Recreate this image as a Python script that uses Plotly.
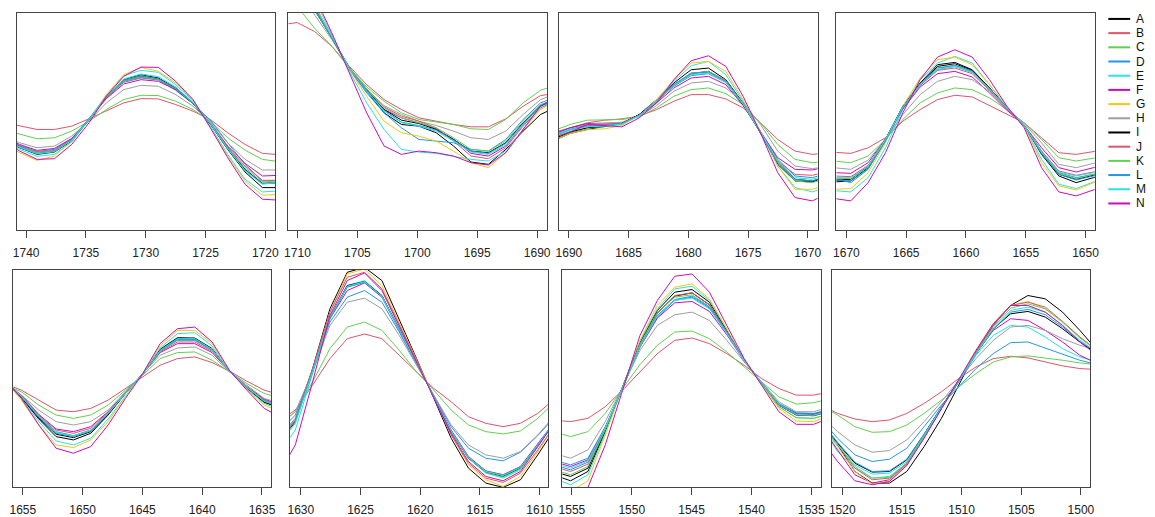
import plotly.graph_objects as go

names = list("ABCDEFGHIJKLMN")
palette = ["#000000", "#DF536B", "#61D04F", "#2297E6", "#28E2E5", "#CD0BBC", "#F5C710", "#9E9E9E"]
colors = (palette * 2)[:14]

# ---------- panel 1 ----------
x1 = [1741.99, 1740.54, 1739.09, 1737.64, 1736.19, 1734.74, 1733.29, 1731.84, 1730.39, 1728.94,
      1727.49, 1726.04, 1724.59, 1723.14, 1721.69, 1720.24, 1718.79]
p1 = {
    "A": [273, 248, 228, 235, 268, 333, 403, 453, 468, 458, 428, 383, 321, 248, 183, 141, 143],
    "B": [325, 313, 303, 303, 313, 335, 358, 383, 396, 395, 378, 358, 333, 293, 258, 231, 227],
    "C": [303, 288, 275, 278, 298, 328, 363, 393, 406, 405, 388, 363, 328, 278, 241, 213, 206],
    "D": [278, 255, 237, 243, 275, 335, 398, 445, 458, 452, 421, 381, 331, 263, 198, 148, 150],
    "E": [268, 243, 222, 228, 265, 332, 406, 465, 481, 475, 438, 390, 313, 228, 153, 115, 118],
    "F": [280, 258, 240, 246, 276, 334, 396, 440, 453, 448, 423, 381, 323, 253, 201, 163, 165],
    "G": [263, 233, 210, 223, 268, 333, 408, 468, 490, 478, 443, 393, 308, 223, 148, 105, 108],
    "H": [283, 263, 248, 253, 283, 328, 383, 423, 436, 433, 408, 373, 325, 263, 213, 181, 181],
    "I": [275, 252, 232, 238, 270, 333, 400, 450, 463, 455, 425, 381, 319, 243, 175, 128, 128],
    "J": [276, 252, 235, 240, 272, 333, 400, 448, 460, 453, 425, 382, 321, 251, 193, 150, 150],
    "K": [275, 250, 233, 238, 271, 333, 401, 450, 462, 454, 426, 382, 321, 247, 188, 145, 148],
    "L": [272, 248, 230, 237, 272, 335, 403, 452, 465, 456, 427, 383, 321, 246, 181, 140, 142],
    "M": [274, 250, 230, 236, 270, 334, 402, 455, 470, 462, 431, 385, 321, 245, 178, 138, 145],
    "N": [268, 238, 213, 215, 258, 323, 403, 463, 491, 490, 448, 393, 308, 218, 138, 93, 90],
}

# ---------- panel 2 ----------
x2 = [1711.47, 1710.02, 1708.57, 1707.12, 1705.67, 1704.22, 1702.77, 1701.32, 1699.87, 1698.42,
      1696.97, 1695.52, 1694.07, 1692.62, 1691.17, 1689.72, 1688.27]
p2 = {
    "A": [853, 763, 668, 581, 488, 418, 353, 318, 313, 293, 253, 205, 198, 243, 298, 348, 373],
    "B": [618, 625, 598, 553, 493, 438, 393, 363, 338, 328, 318, 311, 311, 335, 373, 405, 413],
    "C": [713, 673, 608, 553, 488, 431, 388, 353, 333, 325, 318, 305, 303, 333, 383, 421, 438],
    "D": [843, 753, 663, 578, 483, 413, 353, 308, 273, 268, 263, 243, 238, 273, 333, 383, 403],
    "E": [893, 793, 693, 588, 478, 383, 303, 243, 235, 231, 223, 213, 208, 238, 303, 373, 403],
    "F": [873, 778, 678, 583, 483, 418, 363, 338, 323, 305, 273, 231, 223, 253, 318, 375, 398],
    "G": [863, 773, 678, 583, 483, 403, 328, 293, 283, 268, 238, 203, 188, 233, 303, 363, 393],
    "H": [813, 733, 648, 573, 488, 423, 375, 348, 328, 315, 298, 278, 273, 298, 348, 393, 413],
    "I": [843, 753, 663, 578, 488, 423, 363, 331, 321, 303, 273, 238, 233, 263, 323, 373, 393],
    "J": [843, 753, 665, 581, 488, 425, 371, 343, 328, 308, 268, 223, 215, 248, 313, 368, 393],
    "K": [838, 748, 663, 578, 490, 425, 368, 338, 323, 308, 278, 243, 238, 268, 328, 378, 398],
    "L": [848, 758, 665, 580, 488, 421, 361, 325, 315, 301, 271, 238, 231, 261, 321, 375, 396],
    "M": [858, 768, 673, 583, 486, 418, 358, 323, 313, 298, 268, 235, 228, 256, 318, 371, 393],
    "N": [928, 818, 703, 593, 473, 353, 253, 228, 238, 233, 223, 203, 196, 233, 303, 373, 403],
}

# ---------- panel 3 ----------
x3 = [1691.36, 1689.91, 1688.46, 1687.01, 1685.56, 1684.11, 1682.66, 1681.21, 1679.76, 1678.31,
      1676.86, 1675.41, 1673.96, 1672.51, 1671.06, 1669.61, 1668.16]
p3 = {
    "A": [268, 291, 303, 313, 321, 348, 393, 443, 483, 488, 453, 383, 293, 198, 148, 145, 163],
    "B": [293, 308, 323, 331, 335, 343, 363, 388, 408, 408, 395, 368, 323, 273, 238, 228, 233],
    "C": [298, 318, 331, 333, 333, 341, 368, 403, 423, 428, 411, 378, 323, 258, 213, 203, 208],
    "D": [288, 308, 318, 318, 321, 345, 388, 433, 465, 471, 445, 378, 298, 213, 163, 158, 173],
    "E": [278, 298, 308, 311, 318, 345, 391, 448, 495, 508, 468, 388, 295, 193, 128, 115, 133],
    "F": [288, 308, 321, 321, 323, 345, 383, 428, 458, 463, 438, 375, 298, 218, 183, 181, 193],
    "G": [268, 291, 303, 305, 315, 345, 393, 453, 503, 508, 478, 393, 298, 193, 123, 123, 138],
    "H": [283, 303, 318, 321, 325, 343, 375, 418, 443, 448, 428, 385, 318, 238, 193, 185, 193],
    "I": [273, 295, 308, 313, 321, 348, 388, 438, 471, 478, 448, 378, 293, 203, 153, 148, 163],
    "J": [283, 303, 315, 317, 321, 346, 387, 435, 471, 478, 451, 381, 295, 208, 168, 165, 178],
    "K": [281, 301, 313, 315, 320, 346, 388, 436, 473, 477, 449, 380, 293, 203, 148, 143, 158],
    "L": [283, 303, 313, 315, 320, 346, 390, 438, 473, 475, 448, 380, 295, 205, 153, 148, 165],
    "M": [285, 303, 311, 313, 319, 345, 389, 435, 468, 473, 446, 379, 296, 208, 158, 153, 168],
    "N": [278, 295, 318, 315, 311, 338, 383, 453, 510, 525, 493, 403, 293, 173, 98, 88, 113],
}

# ---------- panel 4 ----------
x4 = [1672.53, 1671.08, 1669.63, 1668.18, 1666.73, 1665.28, 1663.83, 1662.38, 1660.93, 1659.48,
      1658.03, 1656.58, 1655.13, 1653.68, 1652.23, 1650.78, 1649.33, 1647.88]
p4 = {
    "A": [148, 145, 148, 188, 273, 373, 443, 498, 505, 483, 428, 368, 315, 228, 163, 143, 158, 168],
    "B": [238, 235, 231, 248, 278, 328, 363, 393, 406, 401, 375, 348, 323, 278, 233, 228, 235, 245],
    "C": [213, 208, 203, 223, 273, 333, 383, 413, 428, 423, 398, 363, 323, 273, 218, 208, 218, 225],
    "D": [158, 155, 143, 183, 268, 368, 438, 483, 493, 475, 425, 368, 317, 238, 173, 158, 168, 175],
    "E": [123, 118, 115, 158, 248, 363, 453, 503, 523, 503, 438, 368, 313, 213, 138, 125, 145, 153],
    "F": [178, 173, 171, 203, 275, 365, 431, 471, 478, 461, 413, 361, 315, 248, 188, 175, 188, 195],
    "G": [128, 123, 125, 173, 263, 373, 458, 513, 521, 498, 438, 373, 313, 203, 133, 121, 143, 153],
    "H": [193, 188, 183, 211, 273, 348, 408, 448, 463, 453, 418, 368, 321, 263, 198, 188, 201, 208],
    "I": [153, 150, 153, 193, 273, 371, 438, 493, 501, 481, 428, 368, 315, 233, 168, 153, 165, 173],
    "J": [168, 163, 161, 195, 271, 368, 435, 481, 488, 471, 421, 365, 315, 238, 178, 165, 175, 183],
    "K": [161, 156, 155, 190, 271, 369, 437, 488, 495, 477, 425, 367, 315, 233, 171, 155, 168, 175],
    "L": [155, 151, 148, 185, 268, 368, 441, 488, 497, 479, 426, 367, 315, 231, 168, 151, 163, 171],
    "M": [163, 158, 158, 193, 273, 371, 438, 483, 493, 475, 425, 368, 315, 235, 175, 163, 173, 181],
    "N": [103, 95, 88, 143, 233, 353, 453, 521, 543, 521, 453, 373, 308, 188, 115, 103, 121, 133],
}

# ---------- panel 5 ----------
x5 = [1656.57, 1655.12, 1653.67, 1652.22, 1650.77, 1649.32, 1647.87, 1646.42, 1644.97, 1643.52,
      1642.07, 1640.62, 1639.17, 1637.72, 1636.27, 1634.82, 1633.37]
p5 = {
    "A": [320, 270, 206, 153, 143, 163, 218, 283, 343, 416, 451, 450, 418, 350, 298, 256, 238],
    "B": [313, 293, 263, 233, 228, 238, 263, 298, 333, 368, 388, 393, 376, 350, 320, 293, 278],
    "C": [310, 288, 248, 218, 208, 218, 248, 293, 338, 388, 406, 408, 383, 348, 313, 283, 268],
    "D": [318, 276, 216, 168, 156, 173, 223, 285, 342, 410, 443, 443, 413, 350, 302, 263, 246],
    "E": [323, 268, 198, 140, 128, 148, 206, 276, 343, 420, 463, 466, 426, 350, 298, 253, 233],
    "F": [318, 278, 220, 176, 168, 183, 228, 286, 342, 406, 433, 433, 406, 350, 304, 266, 248],
    "G": [326, 263, 188, 128, 120, 143, 198, 273, 343, 426, 473, 473, 433, 350, 296, 248, 226],
    "H": [313, 278, 233, 198, 188, 198, 233, 288, 343, 398, 420, 423, 398, 348, 308, 268, 253],
    "I": [320, 273, 210, 160, 150, 168, 220, 283, 342, 413, 448, 446, 416, 350, 300, 258, 240],
    "J": [318, 277, 218, 173, 163, 178, 226, 285, 342, 408, 438, 438, 410, 350, 303, 264, 246],
    "K": [319, 274, 213, 165, 155, 172, 222, 284, 342, 411, 445, 444, 414, 350, 301, 260, 242],
    "L": [319, 274, 212, 163, 153, 170, 222, 284, 342, 412, 446, 445, 415, 350, 301, 260, 243],
    "M": [319, 275, 214, 166, 155, 172, 223, 284, 342, 413, 448, 448, 416, 350, 302, 260, 243],
    "N": [328, 268, 188, 118, 103, 123, 188, 268, 343, 433, 478, 483, 438, 353, 293, 238, 210],
}

# ---------- panel 6 ----------
x6 = [1631.91, 1630.46, 1629.01, 1627.56, 1626.11, 1624.66, 1623.21, 1621.76, 1620.31, 1618.86,
      1617.41, 1615.96, 1614.51, 1613.06, 1611.61, 1610.16, 1608.71]
p6 = {
    "A": [128, 198, 358, 538, 648, 663, 623, 508, 388, 268, 148, 58, 13, 0, 23, 98, 178],
    "B": [198, 233, 308, 388, 448, 462, 448, 398, 348, 298, 258, 213, 193, 183, 193, 223, 268],
    "C": [188, 228, 318, 418, 483, 498, 473, 413, 348, 293, 233, 188, 168, 161, 170, 208, 258],
    "D": [163, 218, 353, 498, 573, 593, 558, 468, 370, 278, 183, 118, 88, 80, 106, 156, 213],
    "E": [98, 173, 343, 508, 608, 623, 578, 478, 376, 273, 168, 88, 43, 28, 53, 123, 198],
    "F": [138, 198, 348, 508, 593, 616, 573, 475, 375, 275, 173, 93, 50, 38, 63, 130, 200],
    "G": [133, 193, 353, 528, 643, 658, 608, 498, 383, 273, 158, 68, 23, 3, 33, 108, 188],
    "H": [183, 228, 348, 488, 558, 570, 538, 458, 368, 278, 188, 128, 98, 88, 108, 158, 218],
    "I": [143, 200, 350, 513, 608, 620, 578, 478, 376, 273, 168, 88, 46, 33, 58, 126, 198],
    "J": [148, 208, 358, 528, 633, 648, 598, 493, 383, 270, 158, 73, 28, 15, 43, 113, 188],
    "K": [143, 200, 350, 510, 604, 618, 576, 476, 375, 273, 168, 88, 45, 31, 56, 125, 198],
    "L": [148, 203, 350, 510, 603, 618, 576, 476, 375, 274, 170, 90, 48, 38, 61, 128, 199],
    "M": [128, 193, 348, 513, 606, 620, 576, 476, 375, 274, 170, 90, 48, 36, 60, 128, 200],
    "N": [38, 128, 318, 518, 623, 646, 593, 488, 378, 270, 163, 78, 33, 20, 48, 123, 198],
}

# ---------- panel 7 ----------
x7 = [1556.56, 1555.11, 1553.66, 1552.21, 1550.76, 1549.31, 1547.86, 1546.41, 1544.96, 1543.51,
      1542.06, 1540.61, 1539.16, 1537.71, 1536.26, 1534.81, 1533.36]
p7 = {
    "A": [38, 20, 48, 168, 303, 438, 533, 588, 596, 558, 473, 383, 313, 248, 218, 216, 230],
    "B": [203, 198, 208, 243, 293, 348, 403, 443, 450, 433, 403, 368, 328, 298, 278, 278, 288],
    "C": [168, 153, 168, 223, 298, 370, 428, 468, 471, 448, 408, 363, 318, 273, 251, 255, 268],
    "D": [83, 68, 88, 183, 300, 423, 513, 563, 573, 540, 466, 382, 316, 253, 225, 223, 236],
    "E": [28, 8, 38, 163, 303, 440, 538, 598, 606, 563, 476, 383, 313, 243, 210, 208, 223],
    "F": [78, 63, 83, 180, 300, 423, 510, 556, 560, 530, 460, 381, 316, 250, 222, 220, 233],
    "G": [8, -12, 20, 158, 303, 443, 548, 603, 613, 568, 478, 383, 310, 238, 200, 198, 218],
    "H": [103, 88, 113, 198, 303, 413, 488, 520, 528, 503, 443, 378, 318, 258, 228, 228, 243],
    "I": [48, 33, 58, 173, 303, 433, 526, 576, 586, 550, 470, 383, 314, 250, 222, 220, 233],
    "J": [63, 48, 70, 176, 302, 430, 523, 578, 586, 550, 470, 383, 314, 248, 218, 216, 230],
    "K": [53, 38, 63, 173, 302, 432, 526, 573, 580, 545, 468, 382, 312, 243, 210, 208, 223],
    "L": [68, 53, 76, 178, 301, 426, 518, 566, 576, 543, 468, 383, 315, 252, 223, 221, 234],
    "M": [73, 58, 80, 180, 301, 425, 516, 564, 570, 538, 464, 382, 316, 251, 220, 218, 232],
    "N": [-12, -32, 0, 128, 293, 458, 563, 636, 643, 588, 488, 388, 308, 228, 190, 190, 210],
}

# ---------- panel 8 ----------
x8 = [1521.84, 1520.39, 1518.94, 1517.49, 1516.04, 1514.59, 1513.14, 1511.69, 1510.24, 1508.79,
      1507.34, 1505.89, 1504.44, 1502.99, 1501.54, 1500.09, 1498.64]
p8 = {
    "A": [198, 128, 48, 13, 13, 48, 123, 208, 308, 408, 488, 548, 578, 568, 528, 473, 413],
    "B": [248, 223, 206, 198, 203, 223, 253, 288, 328, 363, 388, 395, 390, 378, 366, 358, 355],
    "C": [248, 218, 183, 166, 168, 188, 223, 263, 303, 343, 378, 393, 396, 390, 383, 375, 370],
    "D": [208, 148, 98, 78, 85, 118, 183, 248, 303, 358, 403, 436, 438, 420, 403, 383, 370],
    "E": [188, 108, 58, 28, 33, 73, 153, 238, 318, 398, 458, 488, 483, 453, 418, 393, 378],
    "F": [188, 113, 38, 13, 23, 73, 158, 243, 323, 403, 473, 508, 503, 473, 438, 398, 373],
    "G": [188, 123, 48, 10, 20, 68, 153, 238, 323, 413, 493, 548, 560, 538, 498, 453, 413],
    "H": [218, 168, 128, 106, 111, 143, 198, 258, 323, 388, 443, 483, 488, 473, 448, 428, 413],
    "I": [198, 133, 73, 46, 48, 83, 160, 241, 318, 403, 478, 523, 530, 513, 478, 438, 403],
    "J": [193, 128, 58, 23, 28, 70, 151, 238, 320, 408, 488, 548, 558, 543, 500, 453, 413],
    "K": [196, 130, 63, 28, 30, 73, 153, 238, 318, 405, 483, 540, 553, 538, 498, 450, 413],
    "L": [200, 136, 76, 48, 50, 85, 161, 242, 318, 402, 476, 528, 536, 520, 483, 440, 406],
    "M": [193, 128, 68, 40, 43, 78, 158, 240, 318, 403, 478, 533, 543, 528, 488, 443, 408],
    "N": [148, 78, 20, 8, 18, 66, 148, 236, 323, 413, 493, 548, 548, 528, 488, 438, 398],
}

panels = [(x1, p1), (x2, p2), (x3, p3), (x4, p4), (x5, p5), (x6, p6), (x7, p7), (x8, p8)]
x_ranges = [[1740.8, 1719.17], [1710.75, 1689.14], [1690.86, 1669.17], [1670.83, 1649.23],
            [1655.83, 1634.23], [1630.9, 1609.3], [1555.8, 1534.2], [1520.9, 1499.2]]
y_ranges = [[0, 653]] * 4 + [[0, 655]] * 4

# ---------- layout geometry (pixels) ----------
W, H = 1155, 517
box_x = [(12.7, 273.3), (286.7, 547.7), (559, 820), (839, 1099.3),
         (9, 269.3), (288.3, 548.3), (562.7, 823.3), (834, 1095)]
box_y = [(13.3, 231)] * 4 + [(271, 489.3)] * 4

fig = go.Figure()
for p, (xs, data) in enumerate(panels):
    ax = "" if p == 0 else str(p + 1)
    for i, n in enumerate(names):
        fig.add_trace(go.Scatter(
            x=xs, y=data[n], mode="lines", name=n, showlegend=False,
            line=dict(color=colors[i], width=1),
            xaxis="x" + ax, yaxis="y" + ax, hoverinfo="skip"))

axis_font = dict(family="Liberation Sans, Arial, sans-serif", size=12, color="#222222")
layout = dict(width=W, height=H, autosize=False, margin=dict(l=0, r=0, t=0, b=0),
              paper_bgcolor="white", plot_bgcolor="white", showlegend=False)
for p in range(8):
    ax = "" if p == 0 else str(p + 1)
    x0, x1p = box_x[p]
    ytop, ybot = box_y[p]
    layout["xaxis" + ax] = dict(
        domain=[x0 / W, x1p / W], range=x_ranges[p], anchor="y" + ax,
        tickmode="linear", tick0=0, dtick=5, ticks="outside", ticklen=7, tickwidth=1,
        tickcolor="#444444", showline=True, linecolor="#444444", linewidth=1, mirror=True,
        showgrid=False, zeroline=False, tickfont=axis_font, ticklabelstandoff=4)
    layout["yaxis" + ax] = dict(
        domain=[1 - ybot / H, 1 - ytop / H], range=y_ranges[p], anchor="x" + ax,
        showticklabels=False, ticks="", showline=True, linecolor="#444444", linewidth=1,
        mirror=True, showgrid=False, zeroline=False)
fig.update_layout(**layout)

# ---------- legend (drawn manually to match compact spacing) ----------
shapes, annotations = [], []
for i, n in enumerate(names):
    yp = 1 - (19 + i * 14.25) / H
    shapes.append(dict(type="line", xref="paper", yref="paper", x0=1113 / W, x1=1135 / W,
                       y0=yp, y1=yp, line=dict(color=colors[i], width=2)))
    annotations.append(dict(xref="paper", yref="paper", x=1139 / W, y=yp, text=n,
                            showarrow=False, xanchor="left", yanchor="middle",
                            font=dict(family="Liberation Sans, Arial, sans-serif", size=12,
                                      color="#111111")))
fig.update_layout(shapes=shapes, annotations=annotations)

fig.write_html("out.html")
